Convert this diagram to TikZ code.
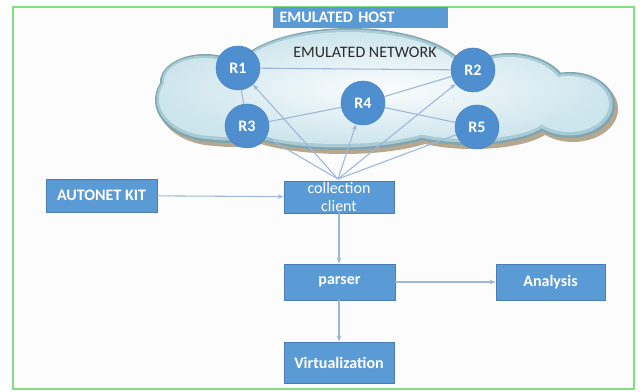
\documentclass[tikz,border=0pt]{standalone}
\usepackage{fontspec}
\setmainfont{Carlito}
\usetikzlibrary{arrows.meta}

\definecolor{boxblue}{HTML}{5B9BD5}
\definecolor{boxedge}{HTML}{4A7DB5}
\definecolor{nodeblue}{HTML}{4F8FD0}
\definecolor{linkc}{HTML}{9DB6DA}
\definecolor{framegreen}{HTML}{80E080}
\definecolor{cloudedge}{HTML}{7FA6B0}
\definecolor{cloudmid}{HTML}{A9CBD5}
\definecolor{cloudshadow}{HTML}{B5A88E}
\definecolor{cloudin}{HTML}{FBFDFE}
\definecolor{cloudout}{HTML}{CDE5ED}
\definecolor{labeltext}{HTML}{2B2B2B}

% lobes of the cloud: centre x / centre y / x radius / y radius (pixel units)
\newcommand\lobelist{
  350/80/120/52, 215/100/60/42, 205/82/45/28, 510/95/60/42,
  570/105/45/33, 340/120/110/30, 470/120/80/25, 230/118/62/25}

\begin{document}
\begin{tikzpicture}[x=0.75pt,y=-0.75pt,
  boxtext/.style={font=\fontsize{12}{13.5}\selectfont\bfseries, text=white},
  bluebox/.style={draw=boxedge, fill=boxblue, line width=0.6pt, boxtext,
    align=center, inner sep=0pt},
  router/.style={circle, fill=nodeblue, draw=nodeblue!90!black, line width=0.4pt,
    minimum size=33pt, inner sep=0pt, boxtext},
  link/.style={draw=linkc, line width=0.8pt},
  flow/.style={link, -{Stealth[length=4.5pt,width=3.5pt]}}]

\useasboundingbox (0,0) rectangle (642,392);
\fill[white] (0,0) rectangle (642,392);

% host frame
\draw[framegreen, line width=1pt, fill=white!98!gray] (13,7) rectangle (634,389);

% cloud: shadow, bevelled edge in two steps, light interior
\fill[cloudshadow]
  \foreach \cx/\cy/\rx/\ry in \lobelist { (\cx+3,\cy+4) ellipse [x radius=\rx, y radius=\ry] };
\fill[cloudedge]
  \foreach \cx/\cy/\rx/\ry in \lobelist { (\cx,\cy) ellipse [x radius=\rx, y radius=\ry] };
\fill[cloudmid]
  \foreach \cx/\cy/\rx/\ry in \lobelist { (\cx-0.5,\cy-0.5) ellipse [x radius=\rx-2, y radius=\ry-2] };
\shade[inner color=cloudin, outer color=cloudout]
  \foreach \cx/\cy/\rx/\ry in \lobelist { (\cx-1,\cy-1) ellipse [x radius=\rx-5, y radius=\ry-5] };

\node[text=labeltext, font=\fontsize{12}{13.5}\selectfont] (netlabel) at (365,52) {EMULATED NETWORK};

% title bar of the host
\node[fill=boxblue, inner xsep=5pt, inner ysep=0pt, minimum height=15.75pt,
  text width=121.25pt, align=left, boxtext] (host) at (360.5,17.5) {EMULATED HOST};

% routers
\node[router] (r1) at (238,68) {R1};
\node[router] (r2) at (473,70) {R2};
\node[router] (r3) at (247,126) {R3};
\node[router] (r4) at (363,103) {R4};
\node[router] (r5) at (477,127) {R5};

% router links
\draw[link] (r1) -- (r2);
\draw[link] (r1) -- (r3);
\draw[link] (r3) -- (r4);
\draw[link] (r4) -- (r2);
\draw[link] (r4) -- (r5);

% tool chain boxes
\node[bluebox, minimum width=83.25pt, minimum height=24.75pt] (autonet) at (101.5,195.5) {AUTONET KIT};
\node[bluebox, minimum width=82.5pt, minimum height=24pt,
  font=\fontsize{12}{13.5}\selectfont] (client) at (339,197) {collection\\client};
\node[bluebox, minimum width=83.25pt, minimum height=27pt] (parser) at (339.5,282) {parser};
\node[bluebox, minimum width=81.75pt, minimum height=27pt] (analysis) at (550.5,282) {Analysis};
\node[bluebox, minimum width=82.5pt, minimum height=30.75pt] (virt) at (339,362.5) {Virtualization};

% collection client reaching each router
\coordinate (fan) at (338,179);
\draw[flow] (fan) -- (r3);
\draw[flow] (fan) -- (r1);
\draw[flow] (fan) -- (r4);
\draw[flow] (fan) -- (r2);
\draw[link] (fan) -- (r5);

% data flow
\draw[flow] (autonet) -- (client);
\draw[flow] (client.south -| 339,0) -- (parser.north -| 339,0);
\draw[flow] (parser) -- (analysis);
\draw[flow] (parser.south -| 339,0) -- (virt.north -| 339,0);

\end{tikzpicture}
\end{document}
